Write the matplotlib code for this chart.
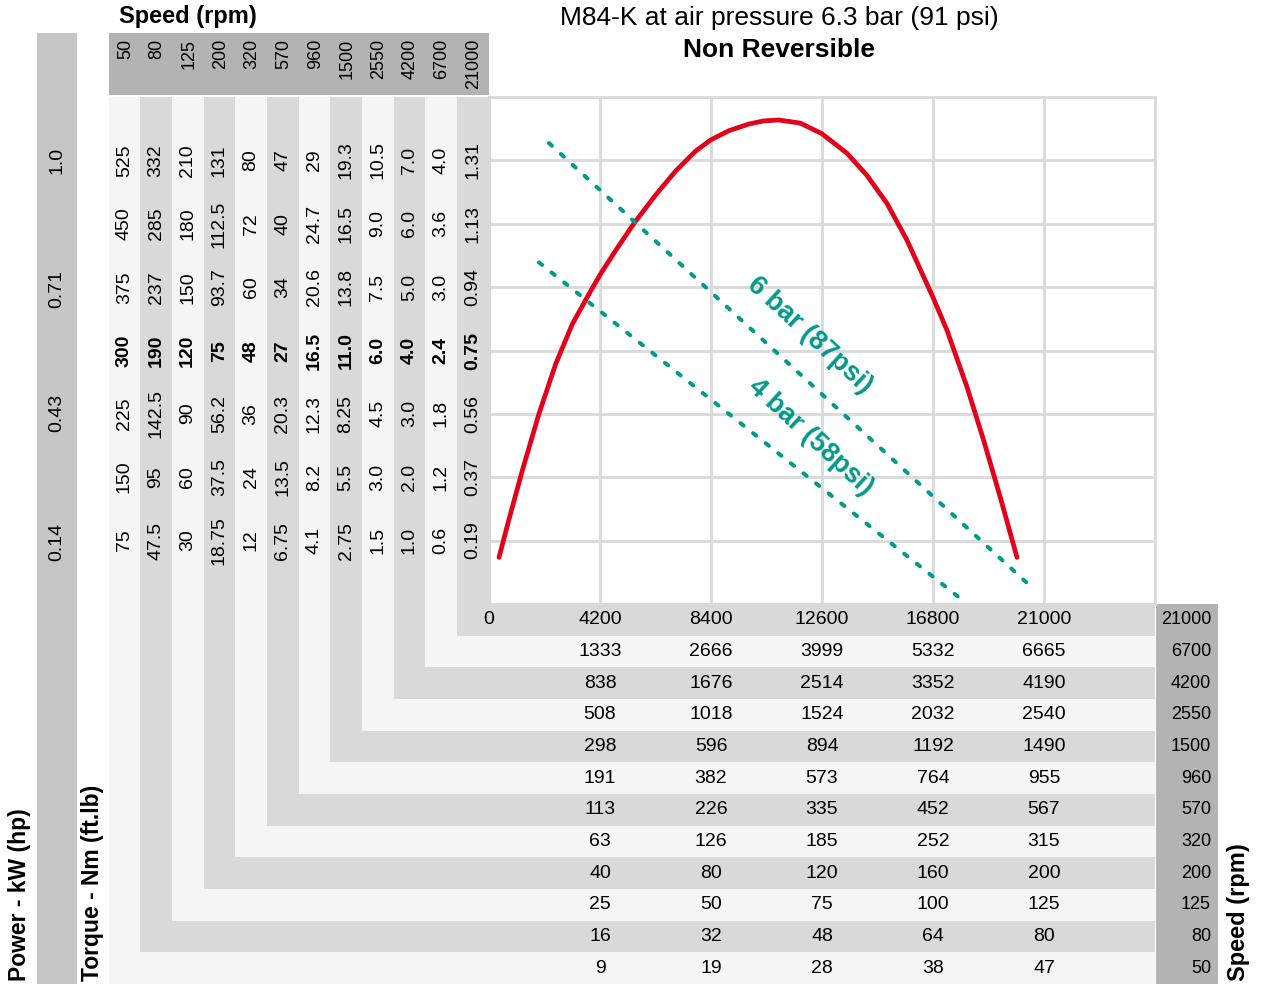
import numpy as np
import matplotlib
matplotlib.use("Agg")
import matplotlib.pyplot as plt
from matplotlib.patches import Rectangle
from matplotlib.transforms import blended_transform_factory

plt.rcParams['font.family'] = ['Liberation Sans', 'DejaVu Sans']

# ---- data ----
speeds = [50, 80, 125, 200, 320, 570, 960, 1500, 2550, 4200, 6700, 21000]
power_kw_rows = [1.0, 0.857, 0.714, 0.571, 0.429, 0.286, 0.143]
power_labels = ['1.0', '0.71', '0.43', '0.14']
torque = [
    ['525', '450', '375', '300', '225', '150', '75'],
    ['332', '285', '237', '190', '142.5', '95', '47.5'],
    ['210', '180', '150', '120', '90', '60', '30'],
    ['131', '112.5', '93.7', '75', '56.2', '37.5', '18.75'],
    ['80', '72', '60', '48', '36', '24', '12'],
    ['47', '40', '34', '27', '20.3', '13.5', '6.75'],
    ['29', '24.7', '20.6', '16.5', '12.3', '8.2', '4.1'],
    ['19.3', '16.5', '13.8', '11.0', '8.25', '5.5', '2.75'],
    ['10.5', '9.0', '7.5', '6.0', '4.5', '3.0', '1.5'],
    ['7.0', '6.0', '5.0', '4.0', '3.0', '2.0', '1.0'],
    ['4.0', '3.6', '3.0', '2.4', '1.8', '1.2', '0.6'],
    ['1.31', '1.13', '0.94', '0.75', '0.56', '0.37', '0.19'],
]
bold_row = 3
x_ticks = [4200, 8400, 12600, 16800, 21000]
speed_scales = [
    [9, 19, 28, 38, 47],
    [16, 32, 48, 64, 80],
    [25, 50, 75, 100, 125],
    [40, 80, 120, 160, 200],
    [63, 126, 185, 252, 315],
    [113, 226, 335, 452, 567],
    [191, 382, 573, 764, 955],
    [298, 596, 894, 1192, 1490],
    [508, 1018, 1524, 2032, 2540],
    [838, 1676, 2514, 3352, 4190],
    [1333, 2666, 3999, 5332, 6665],
    [4200, 8400, 12600, 16800, 21000],
]

curve_rpm = [378, 757, 1261, 1892, 2523, 3153, 3784, 4200, 4793, 5486, 6306, 7063,
             7820, 8387, 9081, 9838, 10400, 10960, 11780, 12600, 13546, 14303, 15059,
             15816, 16573, 16800, 17330, 18087, 18717, 19348, 19979]
curve_kw = [0.105, 0.191, 0.301, 0.429, 0.541, 0.631, 0.699, 0.742, 0.797, 0.858, 0.922, 0.976,
            1.021, 1.046, 1.067, 1.082, 1.089, 1.091, 1.084, 1.060, 1.016, 0.966, 0.903,
            0.820, 0.721, 0.691, 0.617, 0.489, 0.369, 0.240, 0.105]
bar6_rpm = [2270, 20620]
bar6_kw = [1.039, 0.033]
bar4_rpm = [1890, 17780]
bar4_kw = [0.770, 0.015]

LIGHT = '#f5f5f5'
MID = '#d9d9d9'
DARK = '#b3b3b3'
RED = '#e2001a'
TEAL = '#00998a'

fig = plt.figure(figsize=(12.62, 9.84), dpi=100)
bg = fig.add_axes([0, 0, 1, 1])
bg.set_xlim(0, 1262)
bg.set_ylim(984, 0)
bg.axis('off')

# layout (pixels)
x0, cw = 108.5, 31.67
px_left, px_right, px_top, px_bot = 489, 1155, 97, 604
rh = 31.67

# nested L-shaped bands
n = len(speeds)
for k in range(n):
    c = LIGHT if k % 2 == 0 else MID
    bg.add_patch(Rectangle((x0 + cw * k, px_top), px_right - x0 - cw * k,
                           984 - rh * k - px_top, color=c, lw=0))

# header strip
bg.add_patch(Rectangle((x0, 33), px_left - x0, 62, color=DARK, lw=0))
# power column
bg.add_patch(Rectangle((37, 33), 40, 951, color='#c6c6c6', lw=0))
# right speed column
bg.add_patch(Rectangle((1156, px_bot), 62, 984 - px_bot, color=DARK, lw=0))

# main plot
ax = fig.add_axes([px_left / 1262, (984 - px_bot) / 984,
                   (px_right - px_left) / 1262, (px_bot - px_top) / 984])
ax.set_facecolor('white')
ax.set_xlim(0, 25200)
ax.set_ylim(0, 8 / 7)
ax.set_xticks(np.arange(0, 25201, 4200))
ax.set_yticks(np.arange(0, 9) / 7)
ax.grid(True, color=MID, lw=2)
ax.tick_params(length=0, labelbottom=False, labelleft=False)
for s in ax.spines.values():
    s.set_color(MID)
    s.set_linewidth(2)

ax.plot(curve_rpm, curve_kw, color=RED, lw=3.4, solid_capstyle='round',
        solid_joinstyle='round', zorder=3)
for r, p in [(bar6_rpm, bar6_kw), (bar4_rpm, bar4_kw)]:
    ax.plot(r, p, color=TEAL, lw=2.9, dashes=(1.0, 3.0), dash_capstyle='round', zorder=3)
ax.text(12146, 0.606, '6 bar (87psi)', color=TEAL, fontsize=19.5, fontweight='bold',
        rotation=-42.5, ha='center', va='center')
ax.text(12184, 0.376, '4 bar (58psi)', color=TEAL, fontsize=19.5, fontweight='bold',
        rotation=-42.5, ha='center', va='center')

# torque values in columns
tr_col = blended_transform_factory(bg.transData, ax.transData)
for k, col in enumerate(torque):
    xc = x0 + cw * (k + 0.5)
    bg.text(xc + 1, 39, str(speeds[k]), rotation=90, ha='center', va='top', fontsize=13)
    for j, val in enumerate(col):
        fig.text(xc, power_kw_rows[j], val, rotation=90, ha='center', va='center',
                 fontsize=14, fontweight='bold' if j == bold_row else 'normal',
                 transform=tr_col)

for lab in power_labels:
    fig.text(57, float(lab), lab, rotation=90, ha='center', va='center', fontsize=14,
             transform=tr_col)

# speed rows under plot
tr_row = blended_transform_factory(ax.transData, bg.transData)
for k, row in enumerate(speed_scales):
    yc = 984 - rh * (k + 0.5)
    for xv, val in zip(x_ticks, row):
        fig.text(xv, yc, str(val), ha='center', va='center', fontsize=14, transform=tr_row)
    bg.text(1211, yc, str(speeds[k]), ha='right', va='center', fontsize=13)
fig.text(0, 984 - rh * (n - 0.5), '0', ha='center', va='center', fontsize=14, transform=tr_row)

# titles and axis labels
bg.text(119, 17, 'Speed (rpm)', fontsize=17, fontweight='bold', ha='left', va='center')
bg.text(779, 18, 'M84-K at air pressure 6.3 bar (91 psi)', fontsize=19, ha='center', va='center')
bg.text(779, 50, 'Non Reversible', fontsize=19, fontweight='bold', ha='center', va='center')
bg.text(20, 981, 'Power - kW (hp)', rotation=90, fontsize=16.5, fontweight='bold',
        ha='center', va='bottom')
bg.text(92, 981, 'Torque - Nm (ft.lb)', rotation=90, fontsize=16.5, fontweight='bold',
        ha='center', va='bottom')
bg.text(1238, 981, 'Speed (rpm)', rotation=90, fontsize=17, fontweight='bold',
        ha='center', va='bottom')

fig.savefig('out.png', dpi=100)
